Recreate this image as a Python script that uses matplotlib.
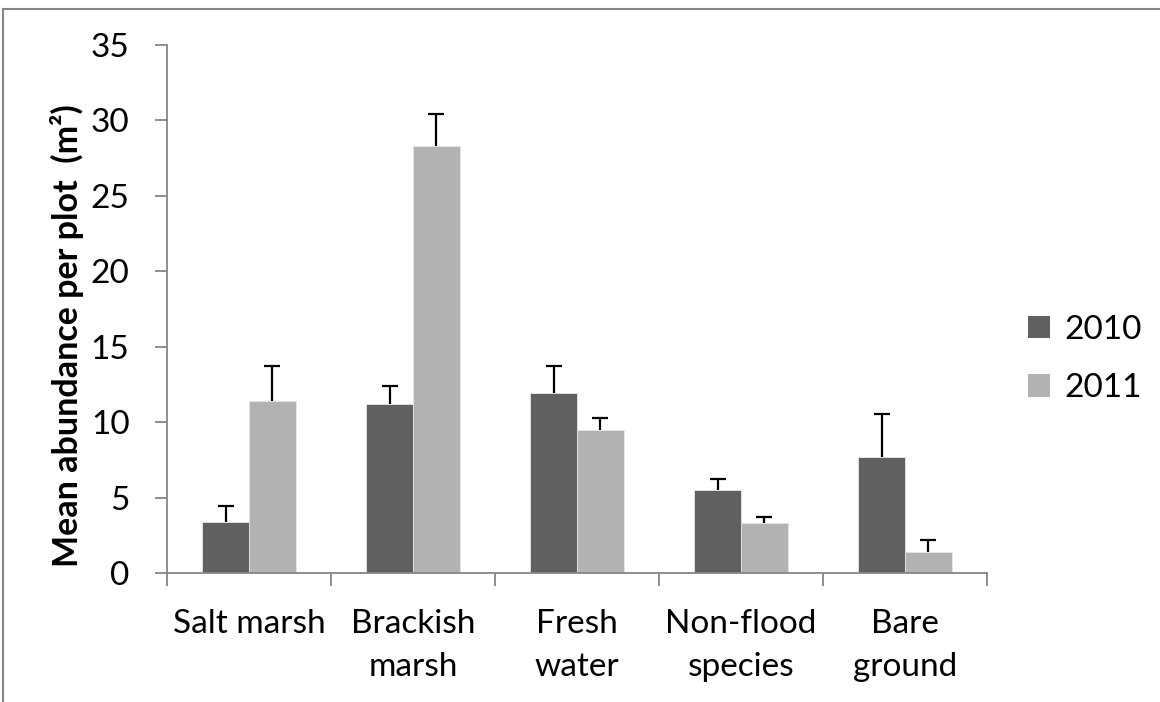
import numpy as np
import matplotlib.pyplot as plt
from matplotlib.lines import Line2D
from matplotlib.patches import Patch

categories = ["Salt marsh", "Brackish\nmarsh", "Fresh\nwater", "Non-flood\nspecies", "Bare\nground"]
years = ["2010", "2011"]
mean_2010 = [3.4, 11.2, 11.9, 5.5, 7.7]
mean_2011 = [11.4, 28.3, 9.5, 3.3, 1.4]
err_2010 = [1.05, 1.2, 1.8, 0.73, 2.85]
err_2011 = [2.35, 2.15, 0.8, 0.38, 0.8]

dark = "#606060"
light = "#b2b2b2"
axis_gray = "#868686"
fs = 24

plt.rcParams['font.family'] = ['Lato', 'DejaVu Sans']

fig = plt.figure(figsize=(11.6, 7.02), dpi=100)
ax = fig.add_axes([167 / 1160, 1 - 573 / 702, 820 / 1160, 528 / 702])

x = np.arange(len(categories))
w = 0.284
for pos, vals, errs, col in [(x - w / 2, mean_2010, err_2010, dark),
                             (x + w / 2, mean_2011, err_2011, light)]:
    ax.bar(pos, vals, w, color=col, edgecolor="#e6e6e6", linewidth=0.6, zorder=2)
    tops = np.array(vals) + np.array(errs)
    ax.vlines(pos, vals, tops, color="black", lw=1.6, zorder=3)
    ax.plot(pos, tops, ls="none", marker="_", ms=12, mew=1.6, color="black", zorder=3)

ax.set_xlim(-0.5, len(categories) - 0.5)
ax.set_ylim(0, 35)
ax.set_yticks(np.arange(0, 36, 5))

# category boundaries as major ticks, labels on minor ticks
ax.set_xticks(np.arange(-0.5, len(categories), 1.0))
ax.set_xticklabels([])
ax.set_xticks(x, minor=True)
ax.set_xticklabels(categories, minor=True, fontsize=fs, linespacing=1.55)
ax.tick_params(axis="x", which="minor", length=0, pad=26)
ax.tick_params(axis="x", which="major", length=9, width=1.3, color=axis_gray)
ax.tick_params(axis="y", length=9, width=1.3, color=axis_gray, labelsize=fs, pad=18)

for s in ["top", "right"]:
    ax.spines[s].set_visible(False)
for s in ["left", "bottom"]:
    ax.spines[s].set_color(axis_gray)
    ax.spines[s].set_linewidth(1.3)

ax.set_ylabel("Mean abundance per plot  (m²)", fontsize=24.5, fontweight="bold")
ax.yaxis.set_label_coords((84 - 167) / 820, (573 - 336) / 528)

handles = [Patch(facecolor=dark, edgecolor="none"), Patch(facecolor=light, edgecolor="none")]
fig.legend(handles, years, loc="center left", bbox_to_anchor=(1028 / 1160, 1 - 359 / 702),
           frameon=False, fontsize=fs, handlelength=0.65, handleheight=0.65,
           handletextpad=0.45, labelspacing=0.85, borderaxespad=0, borderpad=0)

# chart area border (top and left)
fig.add_artist(Line2D([3 / 1160, 1], [1 - 9 / 702, 1 - 9 / 702], color=axis_gray, lw=1.5))
fig.add_artist(Line2D([3 / 1160, 3 / 1160], [0, 1 - 9 / 702], color=axis_gray, lw=1.5))

fig.savefig("out.png", dpi=100)
